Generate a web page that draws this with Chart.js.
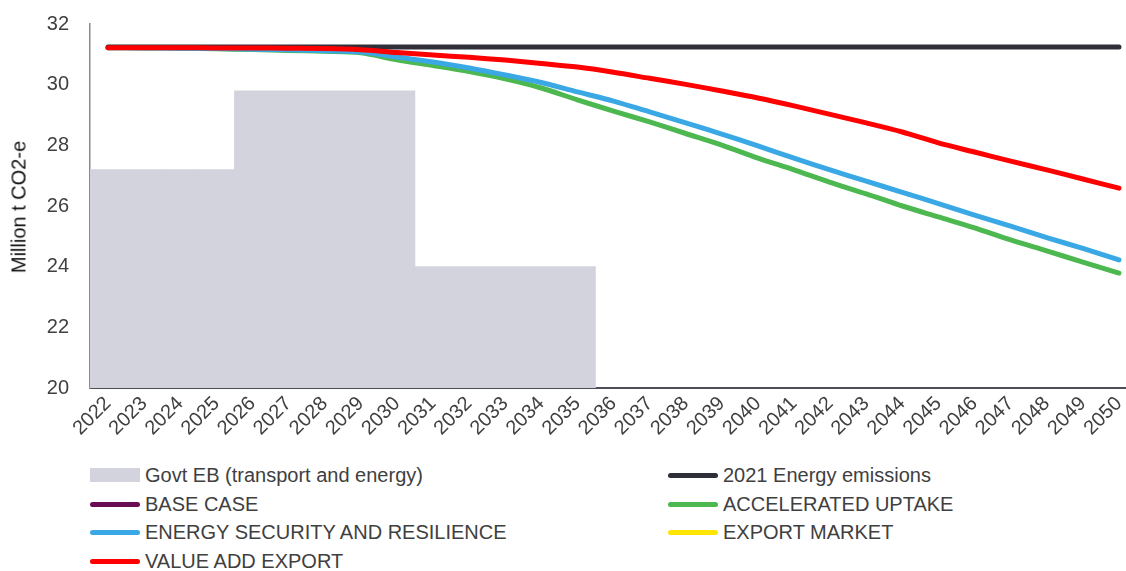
<!DOCTYPE html>
<html lang="en">
<head>
  <meta charset="UTF-8">
  <title>Energy emissions scenarios</title>
  <script src="https://cdn.jsdelivr.net/npm/chart.js"></script>
  <style>
    html, body {
      margin: 0;
      padding: 0;
      background: #fff;
      overflow: hidden;
      width: 1126px;
      height: 571px;
    }
    #wrap {
      position: relative;
      width: 1145px;
      height: 455px;
    }
    #ytitle {
      position: absolute;
      left: 19px;
      top: 207px;
      transform: translate(-50%, -50%) rotate(-90deg);
      font: 20px "Liberation Sans", Arial, sans-serif;
      color: #111;
      white-space: nowrap;
    }
    #legend {
      position: absolute;
      left: 90px;
      top: 461px;
      width: 1030px;
      display: grid;
      grid-template-columns: 578px 1fr;
      grid-auto-rows: 28.7px;
      font: 20px "Liberation Sans", Arial, sans-serif;
      color: #404040;
    }
    .item { display: flex; align-items: center; white-space: nowrap; }
    .sw { width: 50px; height: 5px; border-radius: 3px; margin-right: 5px; }
    .sw.box { height: 14px; border-radius: 0; }
  </style>
</head>
<body>
  <div id="wrap">
    <canvas id="chart" width="1145" height="455"></canvas>
    <div id="ytitle">Million t CO2-e</div>
  </div>
  <div id="legend"></div>

  <script>
    const years = ['2022','2023','2024','2025','2026','2027','2028','2029','2030','2031',
      '2032','2033','2034','2035','2036','2037','2038','2039','2040','2041',
      '2042','2043','2044','2045','2046','2047','2048','2049','2050'];

    const govtEB = [27.2, 27.2, 27.2, 27.2, 29.8, 29.8, 29.8, 29.8, 29.8,
      24.0, 24.0, 24.0, 24.0, 24.0];

    const energy2021 = [31.24, 31.24, 31.24, 31.24, 31.24, 31.24, 31.24, 31.24, 31.24, 31.24,
      31.24, 31.24, 31.24, 31.24, 31.24, 31.24, 31.24, 31.24, 31.24, 31.24,
      31.24, 31.24, 31.24, 31.24, 31.24, 31.24, 31.24, 31.24, 31.24];

    const baseCase = [];
    const exportMarket = [];

    const accelerated = [31.22, 31.21, 31.2, 31.18, 31.16, 31.13, 31.1, 31.05, 30.82, 30.63,
      30.43, 30.19, 29.89, 29.5, 29.13, 28.77, 28.39, 28.01, 27.58, 27.19,
      26.78, 26.4, 26.0, 25.64, 25.28, 24.88, 24.52, 24.15, 23.79];

    const energySecurity = [31.22, 31.21, 31.2, 31.19, 31.17, 31.15, 31.12, 31.08, 30.91, 30.75,
      30.55, 30.32, 30.07, 29.76, 29.46, 29.1, 28.74, 28.37, 27.98, 27.58,
      27.19, 26.82, 26.45, 26.08, 25.7, 25.34, 24.96, 24.6, 24.22];

    const valueAdd = [31.22, 31.22, 31.22, 31.21, 31.21, 31.2, 31.19, 31.15, 31.06, 30.98,
      30.9, 30.81, 30.7, 30.58, 30.41, 30.21, 30.01, 29.79, 29.56, 29.3,
      29.02, 28.74, 28.44, 28.08, 27.78, 27.48, 27.19, 26.89, 26.59];

    const yTicks = [20, 22, 24, 26, 28, 30, 32];

    function lineSet(label, data, color, order) {
      return {
        type: 'line', label, data, order,
        borderColor: color, backgroundColor: color,
        borderWidth: 5, pointRadius: 0, tension: 0.3,
        borderCapStyle: 'round', borderJoinStyle: 'round', fill: false
      };
    }

    const datasets = [
      { type: 'bar', label: 'Govt EB (transport and energy)', data: govtEB,
        backgroundColor: '#d2d3dc', borderWidth: 0,
        barPercentage: 1, categoryPercentage: 1, order: 10, base: 20 },
      lineSet('2021 Energy emissions', energy2021, '#2e2f38', 3),
      lineSet('BASE CASE', baseCase, '#6b0d52', 8),
      lineSet('ACCELERATED UPTAKE', accelerated, '#4cb84f', 6),
      lineSet('ENERGY SECURITY AND RESILIENCE', energySecurity, '#3aa8e4', 5),
      lineSet('EXPORT MARKET', exportMarket, '#ffe500', 7),
      lineSet('VALUE ADD EXPORT', valueAdd, '#ff0000', 1)
    ];

    const tickFont = { family: '"Liberation Sans", Arial, sans-serif', size: 20 };

    new Chart(document.getElementById('chart'), {
      data: { labels: years, datasets },
      options: {
        responsive: false,
        animation: false,
        layout: { padding: { top: 24, right: 8, left: 0, bottom: 0 } },
        plugins: { legend: { display: false }, tooltip: { enabled: false } },
        scales: {
          x: {
            offset: true,
            grid: { display: false, drawTicks: false },
            border: { color: '#4d4d55', width: 2 },
            ticks: {
              color: '#404040', font: tickFont, autoSkip: false,
              minRotation: 45, maxRotation: 45, padding: 4
            },
            afterFit: s => { s.height = 67; s.paddingLeft = 0; s.paddingRight = 0; }
          },
          y: {
            min: 20, max: 32,
            grid: { display: false, drawTicks: false },
            border: { color: '#8a8a90', width: 1.5 },
            afterBuildTicks: s => { s.ticks = yTicks.map(v => ({ value: v })); },
            ticks: { color: '#404040', font: tickFont, padding: 21 },
            afterFit: s => { s.width = 90; s.paddingTop = 0; s.paddingBottom = 0; }
          }
        }
      }
    });

    // legend in two columns, built from the datasets
    const legendEl = document.getElementById('legend');
    datasets.forEach(ds => {
      const item = document.createElement('div');
      item.className = 'item';
      const sw = document.createElement('span');
      sw.className = ds.type === 'bar' ? 'sw box' : 'sw';
      sw.style.background = ds.type === 'bar' ? ds.backgroundColor : ds.borderColor;
      const txt = document.createElement('span');
      txt.textContent = ds.label;
      item.appendChild(sw);
      item.appendChild(txt);
      legendEl.appendChild(item);
    });
  </script>
</body>
</html>
